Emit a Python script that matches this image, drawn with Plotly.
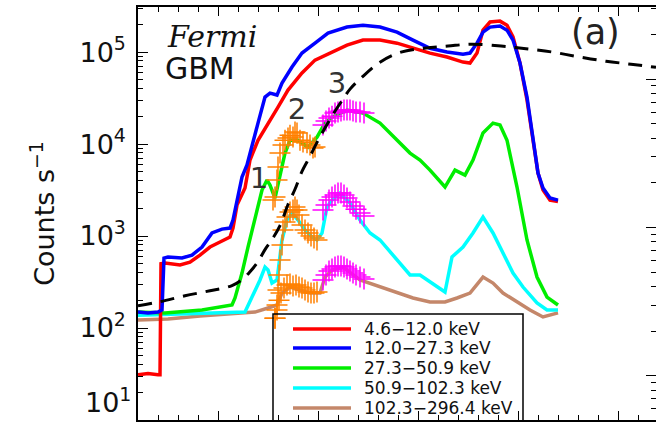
import plotly.graph_objects as go

# ---------------- data (time in s, counts in counts/s) ----------------
band_labels = ["4.6−12.0 keV", "12.0−27.3 keV", "27.3−50.9 keV",
               "50.9−102.3 keV", "102.3−296.4 keV"]
band_colors = ["#ff0000", "#0000ff", "#00ee00", "#00ffff", "#c4876a"]

t_red = [20, 30, 40, 42, 43, 47, 62, 72, 82, 92, 102, 112, 115, 119, 127, 132, 140, 145, 150, 160,
         170, 184, 197, 212, 229, 245, 262, 279, 295, 312, 329, 345, 352, 359, 365, 372, 382, 389,
         395, 402, 409, 415, 420, 425, 432, 440]
red = [31, 32, 31, 31, 500, 509, 484, 521, 621, 759, 861, 975, 1220, 2170, 3330, 6700, 11000, 13500,
       16100, 25200, 38600, 59200, 81800, 97500, 119000, 135000, 135000, 125000, 110000, 97500,
       88300, 77800, 75900, 97500, 173000, 212000, 217000, 196000, 146000, 75900, 30100, 11000,
       4840, 3160, 2460, 2370]

t_blue = [20, 30, 40, 44, 46, 50, 64, 74, 84, 94, 104, 112, 115, 119, 124, 129, 134, 140, 147, 152,
          159, 164, 174, 184, 197, 210, 229, 245, 262, 279, 295, 312, 329, 345, 352, 359, 365, 372,
          382, 389, 395, 402, 409, 415, 420, 425, 432, 440]
blue = [149, 146, 149, 157, 577, 592, 577, 621, 759, 1080, 1190, 1220, 1490, 2460, 4380, 5920, 9270,
        16900, 32400, 35800, 34100, 46000, 68700, 97500, 125000, 161000, 187000, 196000, 187000,
        165000, 135000, 110000, 100000, 95000, 97500, 125000, 165000, 187000, 192000, 173000,
        135000, 75900, 32400, 11000, 4840, 3330, 2590, 2460]

t_green = [20, 47, 84, 114, 117, 124, 130, 137, 144, 149, 152, 157, 162, 167, 172, 180, 190, 199,
           207, 214, 229, 245, 262, 279, 292, 302, 312, 327, 337, 347, 355, 365, 375, 382, 389, 399,
           409, 419, 429, 440]
green = [149, 146, 157, 178, 212, 396, 759, 1610, 3160, 4060, 3580, 2590, 4380, 7980, 11000, 11000,
         9270, 11900, 16900, 19600, 23400, 21700, 16900, 11000, 7980, 6700, 5210, 3410, 5210, 4600,
         6700, 13200, 16900, 16100, 11000, 3410, 906, 358, 217, 178]

t_cyan = [20, 60, 100, 127, 134, 142, 147, 150, 154, 159, 164, 169, 174, 180, 187, 194, 199, 204,
          209, 214, 222, 232, 242, 252, 262, 279, 292, 302, 312, 327, 334, 345, 355, 365, 375, 385,
          395, 405, 419, 429, 440]
cyan = [138, 142, 146, 149, 217, 333, 460, 427, 308, 333, 906, 1490, 1780, 1490, 1160, 975, 906,
        1080, 2070, 2460, 2930, 2290, 1490, 1080, 906, 548, 377, 377, 316, 246, 592, 759, 1080,
        1610, 1080, 653, 396, 279, 187, 157, 157]

t_brown = [20, 50, 82, 122, 137, 150, 159, 164, 172, 182, 192, 202, 207, 214, 225, 242, 262, 279,
           295, 312, 327, 339, 352, 365, 375, 385, 399, 412, 425, 440]
brown = [122, 125, 135, 146, 149, 165, 178, 240, 279, 259, 240, 240, 358, 427, 460, 333, 279, 240,
         212, 192, 192, 212, 240, 358, 308, 240, 192, 157, 132, 146]

# dashed model curve (right-hand axis)
t_model = [20, 42, 67, 92, 114, 124, 132, 140, 147, 154, 162, 170, 177, 184, 192, 199, 208, 217,
           225, 232, 244, 262, 283, 308, 330, 353, 383, 408, 435, 461, 488, 513, 538]
model = [2.97, 3.16, 3.47, 3.75, 4.06, 4.45, 5.04, 5.89, 7.10, 8.30, 10.3, 14.3, 18.1, 23.9, 30.2,
         37.5, 48.1, 60.8, 73.3, 85.6, 103, 130, 152, 162, 167, 172, 167, 160, 152, 141, 132, 126, 120]

# orange "+" samples (intervals 1-2)
t_or_g = [155, 157, 159, 160, 162, 165, 167, 170, 172, 175, 177, 179, 182, 185, 189, 192, 195, 197]
or_g = [2460, 2650, 4060, 5620, 7980, 9750, 11000, 11600, 12500, 11900, 13500, 13200, 11000, 10500,
        10300, 9750, 9060, 9270]
t_or_c = [157, 159, 160, 161, 162, 164, 165, 167, 169, 172, 175, 177, 179, 181, 184, 187, 190, 193,
          196, 199]
or_c = [128, 178, 259, 377, 548, 798, 1160, 1420, 1610, 1820, 1920, 2070, 1920, 1690, 1320, 1160,
        1080, 1000, 951, 906]
t_or_b = [157, 159, 161, 163, 166, 169, 172, 175, 178, 181, 184, 187, 190, 193, 196, 199]
or_b = [128, 157, 201, 240, 272, 293, 301, 286, 293, 279, 272, 259, 246, 240, 240, 246]

# magenta "+" samples (interval 3)
t_mg = [205, 208, 211, 214, 217, 220, 223, 226, 229, 232, 235, 238, 242, 246]
mg_g = [16100, 17800, 19200, 20100, 21700, 22300, 22900, 23400, 23400, 23400, 22900, 22300, 22300, 21700]
mg_c = [1920, 2170, 2460, 2650, 2790, 2930, 2930, 2790, 2590, 2340, 2120, 1960, 1780, 1650]
mg_b = [333, 377, 417, 438, 460, 472, 472, 460, 438, 417, 396, 377, 358, 341]

# interval labels
lab_t = [141, 179, 219]
lab_v = [3960, 22300, 42700]
lab_txt = ["1", "2", "3"]

# y tick labels
ytick_vals = [100, 1000, 1e4, 1e5]
ytick_text = ["10<sup>2</sup>", "10<sup>3</sup>", "10<sup>4</sup>", "10<sup>5</sup>"]
ybottom_text = "10<sup>1</sup>"

# ---------------- figure ----------------
W, H = 656, 424
ML, MR, MT, MB = 138, 0, 7, 4
PW, PH = W - ML - MR, H - MT - MB


def px(x):
    return (x - ML) / PW


def py(y):
    return (H - MB - y) / PH


fig = go.Figure()
series = [(t_brown, brown, 4), (t_cyan, cyan, 3), (t_green, green, 2), (t_red, red, 0), (t_blue, blue, 1)]
for tt, vv, ci in series:
    fig.add_trace(go.Scatter(x=tt, y=vv, mode="lines", name=band_labels[ci],
                             line=dict(color=band_colors[ci], width=3.5)))

fig.add_trace(go.Scatter(x=t_model, y=model, mode="lines", yaxis="y2", name="model",
                         line=dict(color="black", width=3, dash="14px,9px", shape="spline")))

for tt, vv in [(t_or_g, or_g), (t_or_c, or_c), (t_or_b, or_b)]:
    fig.add_trace(go.Scatter(x=tt, y=vv, mode="markers",
                             marker=dict(symbol="cross-thin", size=15,
                                         line=dict(color="#ff8000", width=1.5))))
for vv in [mg_g, mg_c, mg_b]:
    fig.add_trace(go.Scatter(x=t_mg, y=vv, mode="markers",
                             marker=dict(symbol="cross-thin", size=15,
                                         line=dict(color="#ff00ff", width=1.5))))

fig.add_trace(go.Scatter(x=lab_t, y=lab_v, mode="text", text=lab_txt,
                         textfont=dict(family="DejaVu Sans", size=29, color="#333333")))

minor_left = [m * 10 ** k for k in range(1, 6) for m in range(2, 10)]
minor_right = [m * 10 ** k for k in range(-1, 3) for m in range(2, 10)]

fig.update_layout(
    width=W, height=H, margin=dict(l=ML, r=MR, t=MT, b=MB, autoexpand=False),
    paper_bgcolor="white", plot_bgcolor="white", showlegend=False,
    font=dict(family="DejaVu Sans", color="#111111"),
    xaxis=dict(range=[20, 538], showline=True, linecolor="black", linewidth=1.5, automargin=False,
               mirror="ticks", ticks="inside", ticklen=9, tickwidth=1.3, tickcolor="black",
               tick0=0, dtick=100, showticklabels=False, showgrid=False, zeroline=False,
               minor=dict(ticks="inside", ticklen=5, tick0=0, dtick=20, tickwidth=1.3,
                          tickcolor="black", showgrid=False)),
    yaxis=dict(type="log", range=[1, 5.49], showline=True, linecolor="black", linewidth=1.5,
               automargin=False,
               ticks="inside", ticklen=10, tickwidth=1.3, tickcolor="black",
               tickmode="array", tickvals=ytick_vals, ticktext=ytick_text,
               tickfont=dict(size=27, color="#111111"), ticklabelstandoff=5,
               showgrid=False, zeroline=False,
               minor=dict(ticks="inside", ticklen=5, tickwidth=1.3, tickcolor="black",
                          tickmode="array", tickvals=minor_left, showgrid=False),
               title=dict(text="Counts s<sup>−1</sup>", font=dict(size=27, color="#111111"),
                          standoff=17)),
    yaxis2=dict(type="log", range=[-0.297, 2.486], overlaying="y", side="right", anchor="x",
                showline=False, automargin=False,
                ticks="inside", ticklen=10, tickwidth=1.3, tickcolor="black",
                tickmode="array", tickvals=[1, 10, 100], showticklabels=False,
                showgrid=False, zeroline=False,
                minor=dict(ticks="inside", ticklen=5, tickwidth=1.3, tickcolor="black",
                           tickmode="array", tickvals=minor_right, showgrid=False)),
)

ann = [
    dict(x=0, xref="paper", xanchor="right", xshift=-5, y=1, yref="y", yanchor="bottom",
         text=ybottom_text, showarrow=False, font=dict(size=27, color="#111111")),
    dict(x=px(165), y=py(37), xref="paper", yref="paper", xanchor="left", yanchor="middle",
         text="<i>Fermi</i>", showarrow=False,
         font=dict(family="DejaVu Serif", size=30, color="#111111")),
    dict(x=px(163), y=py(68), xref="paper", yref="paper", xanchor="left", yanchor="middle",
         text="GBM", showarrow=False, font=dict(size=30, color="#111111")),
    dict(x=px(595), y=py(32), xref="paper", yref="paper", xanchor="center", yanchor="middle",
         text="(a)", showarrow=False, font=dict(size=35, color="#222222")),
]

# legend box drawn as shapes + text
leg_x0, leg_x1, leg_y0, leg_y1 = 273, 523, 314, 421
leg_lx0, leg_lx1, leg_tx = 293, 351, 362
leg_rows = [329, 348, 368, 388, 408]
shapes = [dict(type="rect", xref="paper", yref="paper", x0=px(leg_x0), x1=px(leg_x1),
               y0=py(leg_y1), y1=py(leg_y0), line=dict(color="black", width=1.5),
               fillcolor="rgba(0,0,0,0)", layer="above")]
for i, ry in enumerate(leg_rows):
    shapes.append(dict(type="line", xref="paper", yref="paper", x0=px(leg_lx0), x1=px(leg_lx1),
                       y0=py(ry), y1=py(ry), line=dict(color=band_colors[i], width=3.5)))
    ann.append(dict(x=px(leg_tx), y=py(ry), xref="paper", yref="paper", xanchor="left",
                    yanchor="middle", text=band_labels[i], showarrow=False,
                    font=dict(size=17, color="#111111")))

fig.update_layout(annotations=ann, shapes=shapes)
fig.write_html("out.html", config={"displayModeBar": False},
               post_script="document.body.style.margin='0';document.body.style.overflow='hidden';")
